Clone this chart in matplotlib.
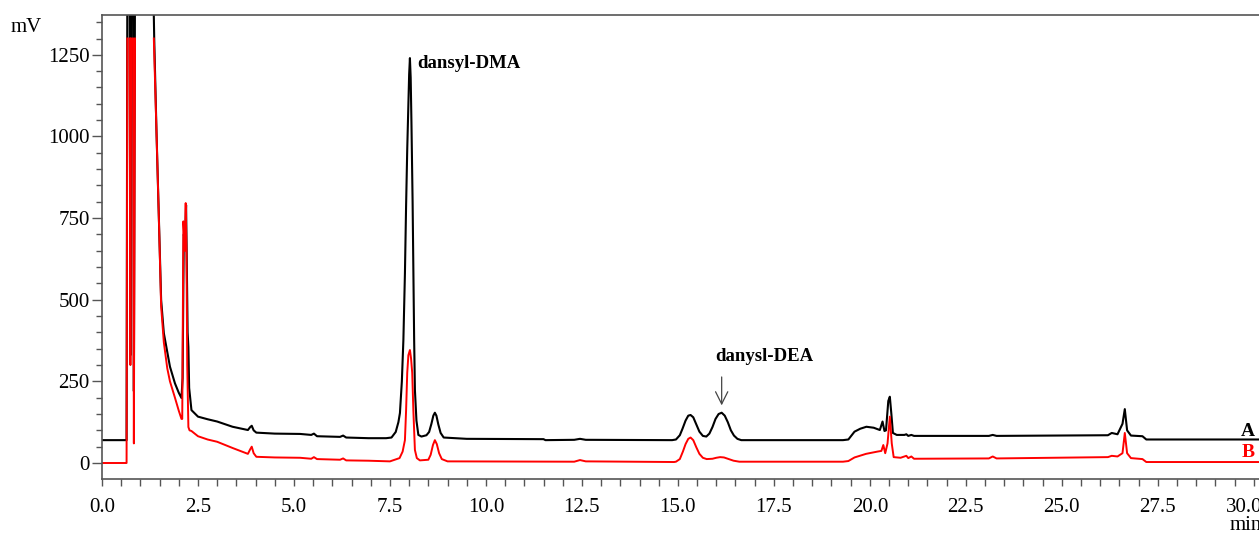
import numpy as np
import matplotlib
matplotlib.use("Agg")
import matplotlib.pyplot as plt
import matplotlib.transforms as mtransforms
from matplotlib.ticker import MultipleLocator

nan = np.nan

# trace A (black): time (min), signal (mV)
t_a = [0.0, 0.64, 0.66, 0.72, 0.74, 0.76, 0.81, 0.83, 0.86, 1.33, 1.36, 1.42, 1.48, 1.54,
       1.61, 1.70, 1.77, 1.90, 2.00, 2.07, 2.10, 2.13, 2.16, 2.19, 2.21, 2.23, 2.25, 2.27,
       2.33, 2.50, 2.75, 3.00, 3.40, 3.80, 3.86, 3.90, 3.95, 4.02, 4.50, 5.16, 5.45, 5.52,
       5.60, 6.20, 6.28, 6.36, 6.94, 7.40,
       7.54, 7.65, 7.72, 7.76, 7.81, 7.85, 7.89, 7.92, 7.95, 7.98, 8.00, 8.02, 8.04, 8.06,
       8.09, 8.11, 8.13, 8.15, 8.19, 8.24, 8.32,
       8.45, 8.52, 8.58, 8.63, 8.67, 8.71, 8.76, 8.82, 8.90,
       9.50, 11.50, 11.55, 12.30, 12.45, 12.60, 14.85,
       14.95, 15.05, 15.12, 15.20, 15.27, 15.33, 15.40, 15.48, 15.56, 15.65, 15.74, 15.82,
       15.90, 15.98, 16.06, 16.14, 16.22, 16.30, 16.38, 16.46, 16.55, 16.65,
       17.00, 19.30, 19.44, 19.60, 19.75, 19.91, 20.10,
       20.26, 20.33, 20.38, 20.42, 20.48, 20.52, 20.56, 20.60, 20.70, 20.90, 20.95, 21.00,
       21.08, 21.15, 23.10, 23.20, 23.30, 26.20, 26.30, 26.45, 26.58, 26.64, 26.70, 26.80,
       27.10, 27.20, 30.50]
mv_a = [70, 70, 1500, 1500, 330, 1500, 1500, 220, 1500, 1500, 1300, 1011, 754, 500,
        398, 340, 295, 244, 215, 199, 260, 700, 680, 790, 600, 400, 355, 230,
        162, 142, 134, 127, 111, 101, 110, 114, 100, 93, 90, 89, 86, 90,
        82, 80, 84, 78, 76, 76,
        78, 95, 125, 153, 250, 377, 580, 785, 960, 1092, 1190, 1240, 1180, 1042,
        800, 582, 380, 224, 130, 86, 81,
        85, 95, 120, 145, 154, 145, 118, 92, 78,
        74, 73, 70, 71, 74, 71, 70,
        72, 85, 105, 130, 145, 147, 140, 118, 96, 83, 81, 90,
        110, 135, 150, 154, 145, 125, 100, 84, 74, 70,
        70, 70, 72, 96, 105, 111, 108,
        101, 127, 98, 100, 190, 203, 150, 92, 86, 86, 88, 83,
        86, 83, 83, 86, 83, 85, 92, 88, 120, 165, 100, 84,
        82, 72, 72]

# trace B (red), the detector display is cut at 1300 mV
t_b = [0.0, 0.64, 0.66, 0.69, 0.72, 0.74, 0.76, 0.79, 0.81, 0.83, 0.86, 1.10, 1.35, 1.42,
       1.48, 1.54, 1.61, 1.70, 1.77, 1.90, 2.00, 2.07, 2.09, 2.12, 2.14, 2.16, 2.18, 2.20,
       2.22, 2.25, 2.28, 2.33, 2.50, 2.75, 3.00, 3.40, 3.80, 3.86, 3.90, 3.95, 4.02, 4.50,
       5.16, 5.45, 5.52, 5.60, 6.20, 6.28, 6.36, 6.94,
       7.50, 7.75, 7.83, 7.89, 7.92, 7.95, 7.98, 8.02, 8.05, 8.08, 8.11, 8.15, 8.20, 8.28,
       8.50, 8.56, 8.62, 8.67, 8.72, 8.78, 8.85,
       9.00, 12.30, 12.45, 12.60, 14.90,
       14.95, 15.05, 15.13, 15.20, 15.27, 15.33, 15.40, 15.48, 15.56, 15.65, 15.75, 15.90,
       16.00, 16.10, 16.20, 16.30, 16.45, 16.60,
       19.30, 19.44, 19.60, 19.90, 20.20, 20.30, 20.35, 20.40, 20.46, 20.52, 20.57, 20.62,
       20.80, 20.95, 21.00, 21.08, 21.15, 23.10, 23.20, 23.30, 26.20, 26.30, 26.45, 26.58,
       26.64, 26.70, 26.80, 27.10, 27.20, 30.50]
mv_b = [0, 0, 1300, nan, 1300, 300, 1300, nan, 1300, 60, 1300, nan, 1300, 1011,
        754, 480, 370, 290, 250, 200, 160, 135, 135, 740, 700, 650, 796, 650,
        300, 110, 100, 98, 82, 72, 65, 46, 28, 42, 50, 30, 19, 17,
        16, 13, 18, 12, 10, 14, 8, 7,
        5, 15, 35, 70, 160, 276, 330, 346, 320, 276, 160, 40, 15, 8,
        10, 25, 55, 70, 58, 30, 12,
        5, 4, 9, 5, 3,
        4, 12, 35, 58, 74, 78, 70, 48, 28, 16, 12, 13,
        16, 18, 17, 13, 7, 4,
        4, 6, 17, 28, 35, 37, 55, 30, 60, 142, 60, 18,
        16, 22, 15, 20, 13, 14, 20, 14, 18, 22, 20, 30,
        92, 30, 15, 12, 3, 3]

W, H = 1259, 533
fig = plt.figure(figsize=(W / 100, H / 100), dpi=100)
ax = fig.add_axes([102 / W, 54 / H, 1171 / W, 464 / H])

ax.plot(t_a, mv_a, color='black', lw=1.5)
ax.plot(t_b, mv_b, color='red', lw=1.4)

ax.set_xlim(0, 30.5)
ax.set_ylim(-49, 1372)

ax.xaxis.set_major_locator(MultipleLocator(2.5))
ax.xaxis.set_minor_locator(MultipleLocator(0.5))
ax.yaxis.set_major_locator(MultipleLocator(250))
ax.yaxis.set_minor_locator(MultipleLocator(50))
ax.xaxis.set_major_formatter(lambda v, p: f"{v:.1f}")
ax.yaxis.set_major_formatter(lambda v, p: f"{v:.0f}")

spine_col = '#555555'
for s in ax.spines.values():
    s.set_color(spine_col)
    s.set_linewidth(1.2)
ax.tick_params(axis='y', which='major', length=7, width=1, color=spine_col, pad=2,
               labelsize=15)
ax.tick_params(axis='y', which='minor', length=4, width=1, color=spine_col)
ax.tick_params(axis='x', which='both', length=5, width=1, color=spine_col, pad=9,
               labelsize=15)

fig.canvas.draw()
for lab in ax.get_xticklabels() + ax.get_yticklabels():
    lab.set_fontfamily('Liberation Serif')
# the last label sits pushed in from the edge, as in the original printout
for lab in ax.get_xticklabels():
    if lab.get_text() == "30.0":
        lab.set_transform(lab.get_transform() +
                          mtransforms.ScaledTranslation(-10 / 100, 0, fig.dpi_scale_trans))

serif = 'Liberation Serif'
fig.text(26 / W, 1 - 28 / H, "mV", ha='center', va='center', fontsize=15, family=serif)
fig.text(1246 / W, 1 - 525 / H, "min", ha='center', va='center', fontsize=15, family=serif)

ax.text(8.2, 1210, "dansyl-DMA", fontsize=13.5, fontweight='bold', family=serif,
        ha='left', va='baseline')
ax.annotate("danysl-DEA", xy=(16.14, 172), xytext=(17.24, 313), fontsize=13.5,
            fontweight='bold', family=serif, ha='center', va='baseline')
ax.annotate("", xy=(16.14, 168), xytext=(16.14, 272),
            arrowprops=dict(arrowstyle='->', color='#444444', lw=0.9,
                            mutation_scale=22))
ax.text(29.84, 98, "A", fontsize=14, fontweight='bold', family=serif, color='black',
        ha='center', va='center')
ax.text(29.84, 31, "B", fontsize=14, fontweight='bold', family=serif, color='red',
        ha='center', va='center')

fig.savefig("out.png", dpi=100)
